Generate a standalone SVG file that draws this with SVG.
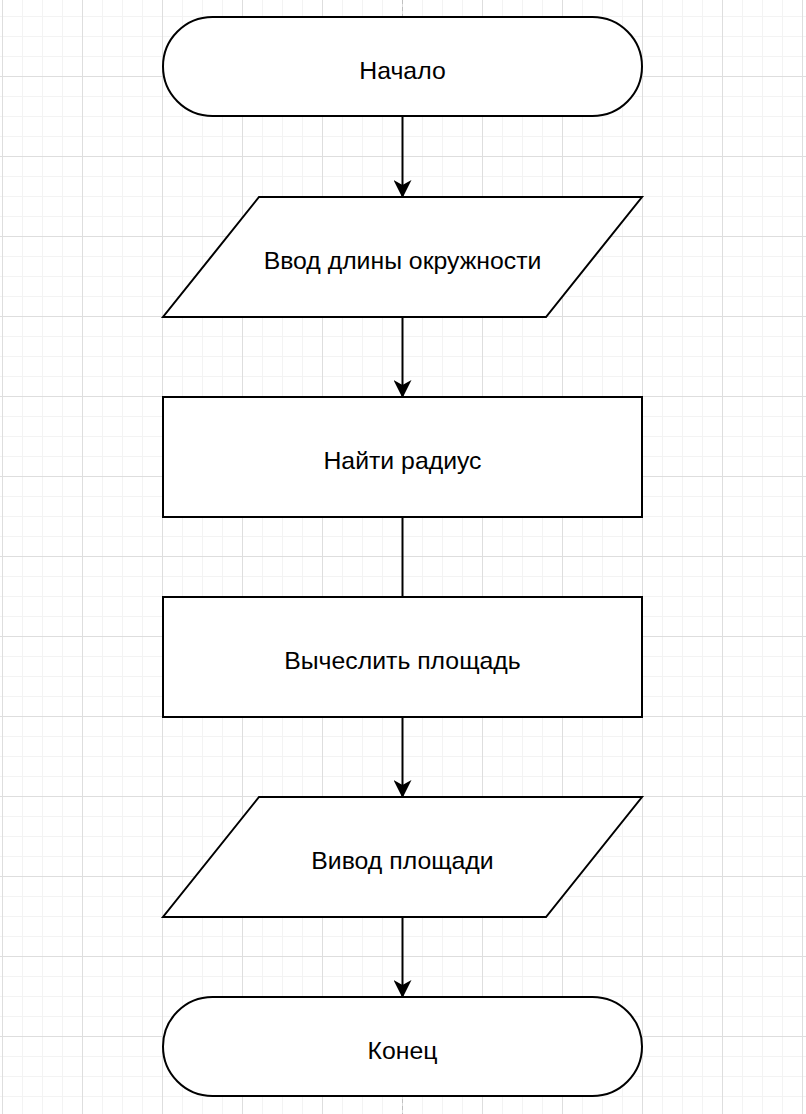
<svg xmlns="http://www.w3.org/2000/svg" width="806" height="1114" viewBox="0 0 806 1114">
<defs>
<pattern id="minor" x="2" y="-4" width="20" height="20" patternUnits="userSpaceOnUse">
<path d="M0.5 0V20M0 0.5H20" fill="none" stroke="#f3f3f3" stroke-width="1"/>
</pattern>
<pattern id="major" x="2" y="-4" width="80" height="80" patternUnits="userSpaceOnUse">
<path d="M0.5 0V80M0 0.5H80" fill="none" stroke="#dedede" stroke-width="1"/>
</pattern>
<marker id="arr" viewBox="0 0 18 18" refX="17" refY="9" markerWidth="18" markerHeight="18" markerUnits="userSpaceOnUse" orient="auto">
<path d="M0 0L18 9L0 18L5 9Z" fill="#000"/>
</marker>
<style>
.s{fill:#fff;stroke:#000;stroke-width:2}
.t{font-family:"Liberation Sans",Arial,sans-serif;font-size:24.8px;fill:#000;text-anchor:middle}
.c{stroke:#000;stroke-width:2;fill:none}
</style>
</defs>
<rect width="806" height="1114" fill="#fff"/>
<rect width="806" height="1114" fill="url(#minor)"/>
<rect width="806" height="1114" fill="url(#major)"/>
<line x1="402.5" y1="0" x2="402.5" y2="1114" stroke="#c0c0c0" stroke-width="1" stroke-dasharray="4 3"/>
<g id="connectors">
<line class="c" x1="402.5" y1="117" x2="402.5" y2="197" marker-end="url(#arr)"/>
<line class="c" x1="402.5" y1="317" x2="402.5" y2="397" marker-end="url(#arr)"/>
<line class="c" x1="402.5" y1="517" x2="402.5" y2="597"/>
<line class="c" x1="402.5" y1="717" x2="402.5" y2="797" marker-end="url(#arr)"/>
<line class="c" x1="402.5" y1="917" x2="402.5" y2="997" marker-end="url(#arr)"/>
</g>
<g id="start">
<rect class="s" x="163" y="17" width="479" height="99" rx="49.5"/>
<text class="t" x="402.5" y="78.5">Начало</text>
</g>
<g id="input">
<polygon class="s" points="259,197 642,197 546,317 163,317"/>
<text class="t" x="402.5" y="268.5">Ввод длины окружности</text>
</g>
<g id="radius">
<rect class="s" x="163" y="397" width="479" height="120"/>
<text class="t" x="402.5" y="468.5">Найти радиус</text>
</g>
<g id="area">
<rect class="s" x="163" y="597" width="479" height="120"/>
<text class="t" x="402.5" y="668.5">Вычеслить площадь</text>
</g>
<g id="output">
<polygon class="s" points="259,797 642,797 546,917 163,917"/>
<text class="t" x="402.5" y="868.5">Вивод площади</text>
</g>
<g id="end">
<rect class="s" x="163" y="997" width="479" height="99" rx="49.5"/>
<text class="t" x="402.5" y="1058.5">Конец</text>
</g>
</svg>
